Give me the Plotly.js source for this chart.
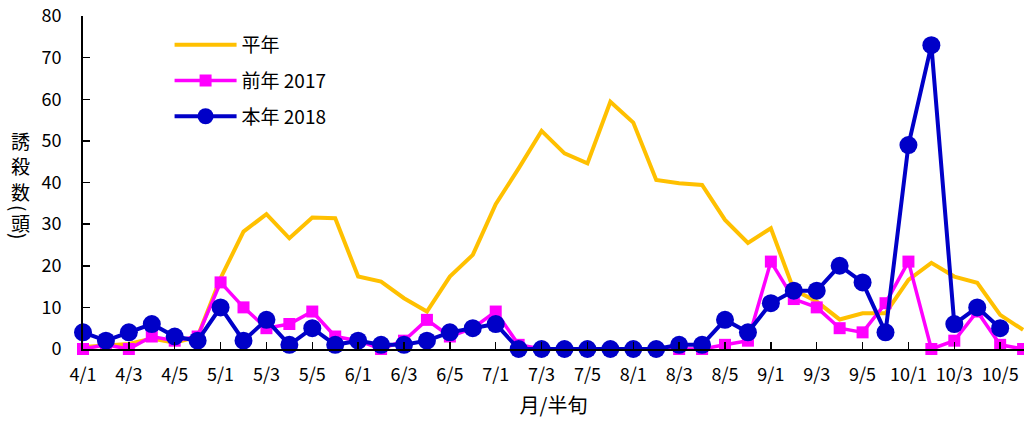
<!DOCTYPE html>
<html>
<head>
<meta charset="utf-8">
<script src="https://cdn.plot.ly/plotly-3.0.1.min.js"></script>
<style>html,body{margin:0;padding:0;background:#fff;}#chart{width:1024px;height:423px;}</style>
</head>
<body>
<div id="chart"></div>
<script>
const categories = [
  "4/1","4/2","4/3","4/4","4/5","4/6",
  "5/1","5/2","5/3","5/4","5/5","5/6",
  "6/1","6/2","6/3","6/4","6/5","6/6",
  "7/1","7/2","7/3","7/4","7/5","7/6",
  "8/1","8/2","8/3","8/4","8/5","8/6",
  "9/1","9/2","9/3","9/4","9/5","9/6",
  "10/1","10/2","10/3","10/4","10/5","10/6"
];
const tickLabels = ["4/1","4/3","4/5","5/1","5/3","5/5","6/1","6/3","6/5","7/1","7/3","7/5","8/1","8/3","8/5","9/1","9/3","9/5","10/1","10/3","10/5"];
const normalYear = [0.5,0.8,1.2,2.5,1.5,3, 17,28.2,32.4,26.6,31.6,31.4, 17.4,16.2,12.2,9,17.4,22.6, 34.8,43.4,52.4,47,44.6,59.4, 54.4,40.6,39.8,39.4,31,25.5, 29,14.2,11.4,7.1,8.6,8.6, 16.6,20.7,17.4,15.9,8.2,4.6];
const prevYear2017 = [0,1,0,3,2,3, 16,10,5,6,9,3, 2,0,2,7,3,5, 9,1,0,0,0,0, 0,0,0,0,1,2, 21,12,10,5,4,11, 21,0,2,9,1,0];
const thisYear2018 = [4,2,4,6,3,2, 10,2,7,1,5,1, 2,1,1,2,4,5, 6,0,0,0,0,0, 0,0,1,1,7,4, 11,14,14,20,16,4, 49,73,6,10,5,null];
const seriesNames = ["平年","前年 2017","本年 2018"];

const font = "'Noto Sans CJK JP', 'Noto Sans', sans-serif";
const traces = [
  {x: categories, y: normalYear, name: seriesNames[0], mode: "lines", legendgroup: "a",
   line: {color: "#FFC000", width: 4}, cliponaxis: false},
  {x: categories, y: prevYear2017, name: seriesNames[1], mode: "lines+markers", legendgroup: "b",
   line: {color: "#FF00FF", width: 3.5}, marker: {symbol: "square", size: 12, color: "#FF00FF"}, cliponaxis: false},
  {x: categories, y: thisYear2018, name: seriesNames[2], mode: "lines+markers", legendgroup: "c",
   line: {color: "#0000C8", width: 4}, marker: {symbol: "circle", size: 18, color: "#0000C8"}, cliponaxis: false, connectgaps: false}
];

const yChars = [
  {t: "誘", y: 140, a: 0}, {t: "殺", y: 165, a: 0}, {t: "数", y: 191, a: 0},
  {t: "(", y: 208, a: 90}, {t: "頭", y: 222, a: 0}, {t: ")", y: 236, a: 90}
];
const annotations = yChars.map(c => ({
  text: c.t, xref: "paper", yref: "paper", x: (20 - 83) / 941,
  y: (349 - c.y) / 333, yanchor: "middle", xanchor: "center",
  textangle: c.a, showarrow: false, font: {family: font, size: 19, color: "#000"}
}));

const layout = {
  width: 1024, height: 423,
  margin: {l: 83, r: 0, t: 16, b: 74},
  paper_bgcolor: "#fff", plot_bgcolor: "#fff",
  showlegend: true,
  legend: {x: 0.092, y: 0.97, xanchor: "left", yanchor: "top", bgcolor: "rgba(0,0,0,0)",
           font: {family: font, size: 19, color: "#000"}, tracegroupgap: 8, itemwidth: 62},
  xaxis: {
    type: "category", range: [0, 41.04], tickvals: tickLabels, ticktext: tickLabels,
    showline: true, linecolor: "#000", linewidth: 2, ticks: "inside", ticklen: 7, tickcolor: "#000", tickwidth: 1.5,
    showgrid: false, zeroline: false, tickangle: 0, ticklabelstandoff: 8,
    tickfont: {family: font, size: 18, color: "#000"},
    title: {text: "月/半旬", font: {family: font, size: 20, color: "#000"}, standoff: 14}
  },
  yaxis: {
    range: [0, 80], dtick: 10, showline: true, linecolor: "#000", linewidth: 2,
    ticks: "inside", ticklen: 7, tickcolor: "#000", tickwidth: 1.5, showgrid: false, zeroline: false,
    ticklabelstandoff: 16,
    tickfont: {family: font, size: 18, color: "#000"}
  },
  annotations: annotations
};
Plotly.newPlot("chart", traces, layout, {displayModeBar: false, staticPlot: true});
</script>
</body>
</html>
